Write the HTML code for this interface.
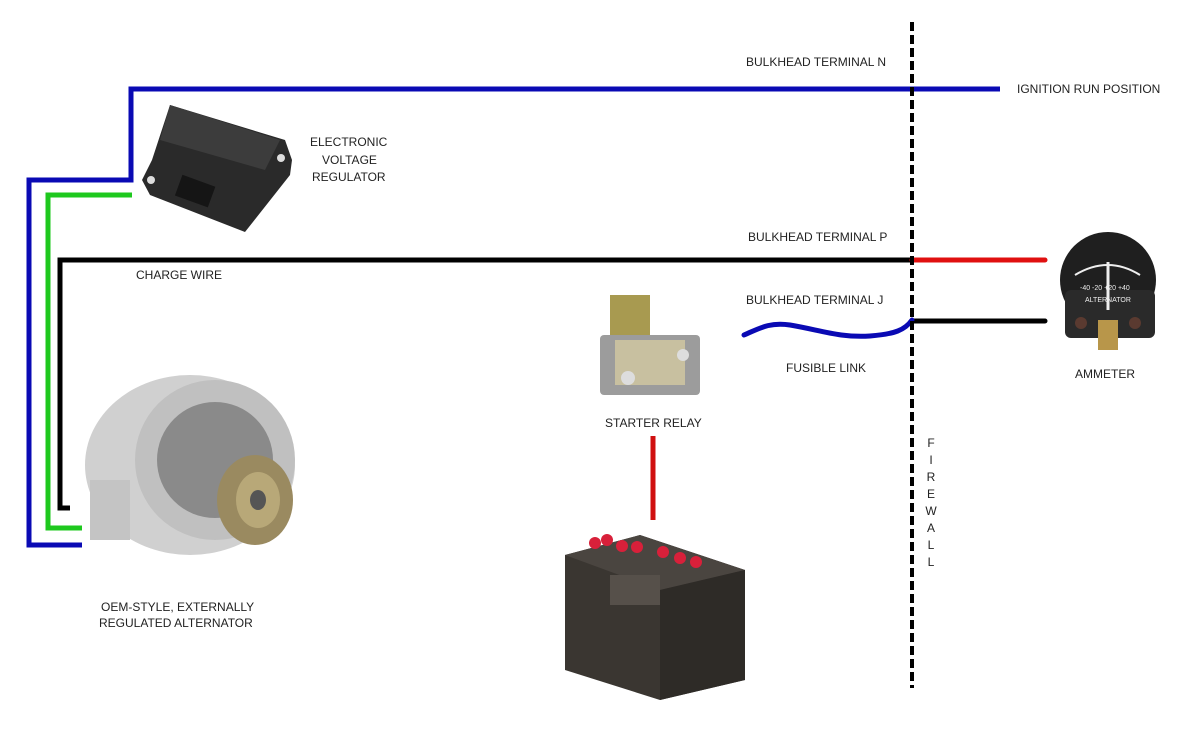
<!DOCTYPE html>
<html><head><meta charset="utf-8"><style>
body{margin:0;background:#fff;}
svg{display:block}
text{font-family:"Liberation Sans",sans-serif;font-size:12px;fill:#222}
</style></head><body>
<svg width="1200" height="749" viewBox="0 0 1200 749">
<rect width="1200" height="749" fill="#fff"/>
<!-- wires -->
<polyline points="1000,89 131,89 131,180 29,180 29,545 82,545" fill="none" stroke="#0a0ab4" stroke-width="5"/>
<polyline points="132,195 48,195 48,528 82,528" fill="none" stroke="#1ec81e" stroke-width="5"/>
<polyline points="912,260 60,260 60,508 70,508" fill="none" stroke="#000" stroke-width="5"/>
<line x1="912" y1="260" x2="1045" y2="260" stroke="#e01010" stroke-width="5" stroke-linecap="round"/>
<line x1="912" y1="321" x2="1045" y2="321" stroke="#000" stroke-width="5" stroke-linecap="round"/>
<path d="M744,335 C760,328 770,322 790,325 C820,330 840,338 870,336 C895,334 905,330 912,320" fill="none" stroke="#0a0ab4" stroke-width="5" stroke-linecap="round"/>
<line x1="653" y1="436" x2="653" y2="520" stroke="#d01010" stroke-width="5"/>
<line x1="912" y1="22" x2="912" y2="688" stroke="#000" stroke-width="4" stroke-dasharray="9,4"/>
<!-- regulator -->
<g>
<path d="M170,105 L285,140 L292,160 L290,175 L245,232 L150,195 L142,180 L152,160 Z" fill="#2a2a2a"/>
<path d="M170,105 L280,140 L265,170 L160,140 Z" fill="#3c3c3c"/>
<circle cx="281" cy="158" r="4" fill="#ddd"/><circle cx="151" cy="180" r="4" fill="#ddd"/>
<rect x="178" y="180" width="35" height="22" fill="#151515" transform="rotate(20 195 190)"/>
</g>
<!-- alternator -->
<g>
<ellipse cx="190" cy="465" rx="105" ry="90" fill="#d0d0d0"/>
<ellipse cx="215" cy="460" rx="80" ry="80" fill="#c0c0c0"/>
<ellipse cx="215" cy="460" rx="58" ry="58" fill="#8a8a8a"/>
<ellipse cx="255" cy="500" rx="38" ry="45" fill="#9a8a60"/>
<ellipse cx="258" cy="500" rx="22" ry="28" fill="#b8a878"/>
<ellipse cx="258" cy="500" rx="8" ry="10" fill="#555"/>
<rect x="90" y="480" width="40" height="60" fill="#c4c4c4"/>
</g>
<!-- starter relay -->
<g>
<rect x="610" y="295" width="40" height="50" fill="#a89a50"/>
<rect x="600" y="335" width="100" height="60" rx="4" fill="#9c9c9c"/>
<rect x="615" y="340" width="70" height="45" fill="#c8c0a0"/>
<circle cx="628" cy="378" r="7" fill="#ddd"/><circle cx="683" cy="355" r="6" fill="#ddd"/>
</g>
<!-- battery -->
<g>
<path d="M565,555 L640,535 L745,570 L745,680 L660,700 L565,670 Z" fill="#3a3631"/>
<path d="M565,555 L640,535 L745,570 L660,590 Z" fill="#4a4540"/>
<path d="M660,590 L745,570 L745,680 L660,700 Z" fill="#2e2b27"/>
<g fill="#d8203a"><circle cx="595" cy="543" r="6"/><circle cx="607" cy="540" r="6"/><circle cx="622" cy="546" r="6"/><circle cx="637" cy="547" r="6"/><circle cx="663" cy="552" r="6"/><circle cx="680" cy="558" r="6"/><circle cx="696" cy="562" r="6"/></g>
<rect x="610" y="575" width="50" height="30" fill="#56504a"/>
</g>
<!-- ammeter -->
<g>
<circle cx="1108" cy="280" r="48" fill="#1f1f1f"/>
<rect x="1065" y="290" width="90" height="48" rx="6" fill="#2a2a2a"/>
<path d="M1075,275 Q1108,255 1140,275" fill="none" stroke="#eee" stroke-width="2"/>
<line x1="1108" y1="262" x2="1108" y2="310" stroke="#eee" stroke-width="3"/>
<text x="1080" y="290" style="font-size:7px;fill:#eee">-40 -20 +20 +40</text>
<text x="1085" y="302" style="font-size:7px;fill:#eee">ALTERNATOR</text>
<rect x="1098" y="320" width="20" height="30" fill="#b8964a"/>
<circle cx="1081" cy="323" r="6" fill="#5a3a30"/><circle cx="1135" cy="323" r="6" fill="#5a3a30"/>
</g>
<!-- labels -->
<text x="746" y="66">BULKHEAD TERMINAL N</text>
<text x="1017" y="93">IGNITION RUN POSITION</text>
<text x="310" y="146">ELECTRONIC</text>
<text x="322" y="164">VOLTAGE</text>
<text x="312" y="181">REGULATOR</text>
<text x="748" y="241">BULKHEAD TERMINAL P</text>
<text x="136" y="279">CHARGE WIRE</text>
<text x="746" y="304">BULKHEAD TERMINAL J</text>
<text x="786" y="372">FUSIBLE LINK</text>
<text x="1075" y="378">AMMETER</text>
<text x="605" y="427">STARTER RELAY</text>
<text x="101" y="611">OEM-STYLE, EXTERNALLY</text>
<text x="99" y="627">REGULATED ALTERNATOR</text>
<g text-anchor="middle"><text x="931" y="447">F</text><text x="931" y="464">I</text><text x="931" y="481">R</text><text x="931" y="498">E</text><text x="931" y="515">W</text><text x="931" y="532">A</text><text x="931" y="549">L</text><text x="931" y="566">L</text></g>
</svg>
</body></html>
